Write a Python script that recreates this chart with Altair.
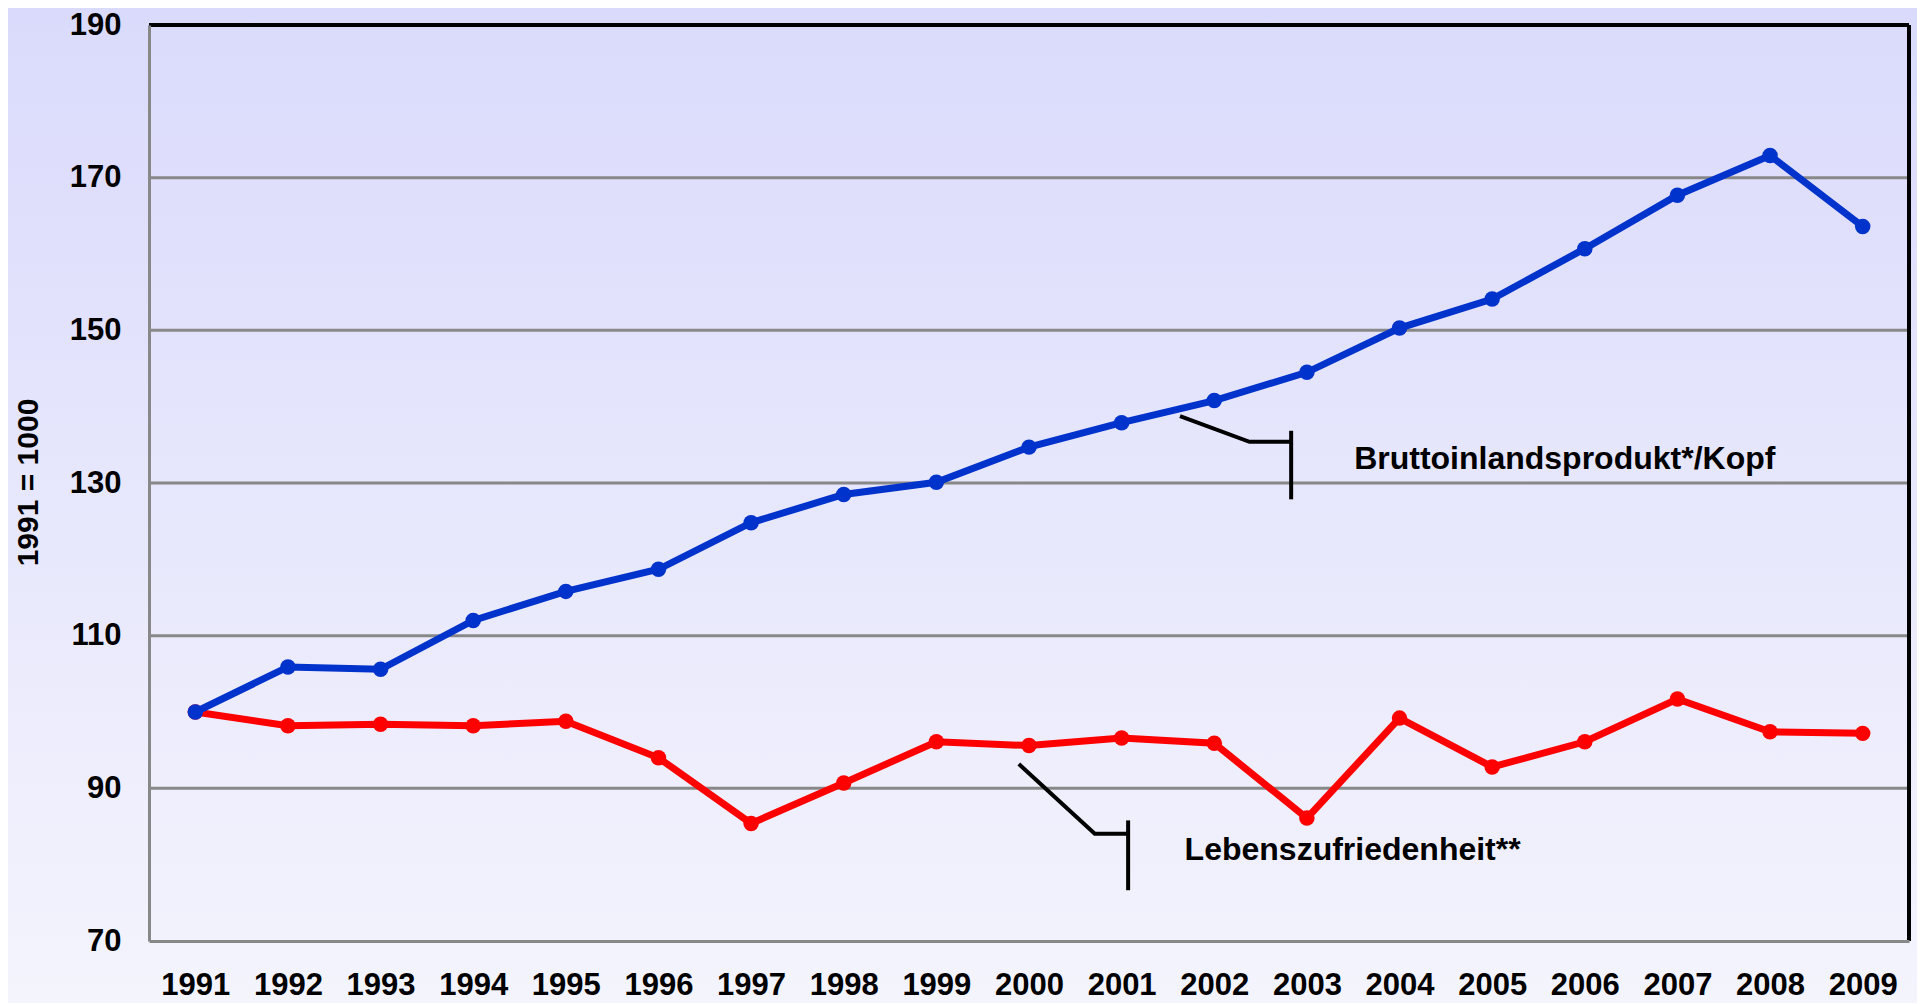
import altair as alt
import pandas as pd

# ---- data ----
years = [1991, 1992, 1993, 1994, 1995, 1996, 1997, 1998, 1999, 2000,
         2001, 2002, 2003, 2004, 2005, 2006, 2007, 2008, 2009]
bip = [100.0, 105.9, 105.6, 112.0, 115.8, 118.7, 124.8, 128.5, 130.1, 134.7,
       137.9, 140.8, 144.5, 150.3, 154.1, 160.7, 167.7, 172.9, 163.6]
lz = [100.0, 98.2, 98.4, 98.2, 98.8, 94.0, 85.4, 90.7, 96.1, 95.6,
      96.6, 95.9, 86.1, 99.2, 92.8, 96.1, 101.7, 97.4, 97.2]

y_ticks = [70, 90, 110, 130, 150, 170, 190]
grid_values = [90, 110, 130, 150, 170]

# annotation leader lines (data coordinates)
conn_group = ["bip", "bip", "bip", "lz", "lz", "lz"]
conn_idx = [0, 1, 2, 0, 1, 2]
conn_x = [2001.63, 2002.38, 2002.83, 1999.89, 2000.71, 2001.07]
conn_y = [138.76, 135.4, 135.4, 93.19, 84.04, 84.04]
bar_x = [2002.83, 2001.07]
bar_y1 = [136.84, 85.8]
bar_y2 = [127.86, 76.65]
label_text = ["Bruttoinlandsprodukt*/Kopf", "Lebenszufriedenheit**"]
label_x = [2003.51, 2001.68]
label_y = [133.15, 81.95]

FONT = "Liberation Sans"
W, H = 1760, 916
PAD = {"left": 141, "top": 17, "right": 8, "bottom": 62}

xscale = alt.Scale(domain=[1990.5, 2009.5], nice=False, zero=False)
yscale = alt.Scale(domain=[70, 190], nice=False, zero=False)

xaxis = alt.Axis(values=years, format="d", grid=False, ticks=False,
                 domainColor="#888888", domainWidth=3,
                 labelFont=FONT, labelFontSize=31, labelFontWeight="bold",
                 labelColor="black", labelPadding=29, title=None, zindex=1)
yaxis = alt.Axis(values=y_ticks, format="d", grid=False, ticks=False,
                 domainColor="#888888", domainWidth=3,
                 labelFont=FONT, labelFontSize=31, labelFontWeight="bold",
                 labelColor="black", labelPadding=28,
                 title="1991 = 1000", titleFont=FONT, titleFontSize=30,
                 titleFontWeight="bold", titleColor="black",
                 titleAngle=270, titleX=-121, titleY=457,
                 titleAlign="center", titleBaseline="middle", zindex=1)

series_df = pd.DataFrame({"year": years, "bip": bip, "lz": lz})
conn_df = pd.DataFrame({"g": conn_group, "i": conn_idx, "x": conn_x, "y": conn_y})
bar_df = pd.DataFrame({"x": bar_x, "y1": bar_y1, "y2": bar_y2})
grid_df = pd.DataFrame({"v": grid_values})
label_df = pd.DataFrame({"x": label_x, "y": label_y, "t": label_text})

gradient = alt.LinearGradient(
    gradient="linear",
    stops=[alt.GradientStop(color="#DADAFC", offset=0),
           alt.GradientStop(color="#F4F4FD", offset=1)],
    x1=0, x2=0, y1=0, y2=1)

bg = alt.Chart(pd.DataFrame({"a": [0]})).mark_rect(color=gradient).encode(
    x=alt.value(-PAD["left"]), x2=alt.value(W + PAD["right"]),
    y=alt.value(-PAD["top"]), y2=alt.value(H + PAD["bottom"]))

grid = alt.Chart(grid_df).mark_rule(color="#888888", strokeWidth=3).encode(
    y=alt.Y("v:Q", scale=yscale, axis=yaxis))

top_border = alt.Chart(pd.DataFrame({"a": [0]})).mark_rule(
    color="black", strokeWidth=4).encode(y=alt.datum(190, scale=yscale))
right_border = alt.Chart(pd.DataFrame({"a": [0]})).mark_rule(
    color="black", strokeWidth=4).encode(x=alt.datum(2009.5, scale=xscale))

def series(field, color):
    base = alt.Chart(series_df).encode(
        x=alt.X("year:Q", scale=xscale, axis=xaxis),
        y=alt.Y(f"{field}:Q", scale=yscale, axis=yaxis))
    return [base.mark_line(color=color, strokeWidth=7),
            base.mark_circle(color=color, size=240, opacity=1)]

conn = alt.Chart(conn_df).mark_line(color="black", strokeWidth=4).encode(
    x=alt.X("x:Q", scale=xscale, axis=xaxis),
    y=alt.Y("y:Q", scale=yscale, axis=yaxis),
    detail="g:N", order="i:Q")
bars = alt.Chart(bar_df).mark_rule(color="black", strokeWidth=4).encode(
    x=alt.X("x:Q", scale=xscale, axis=xaxis),
    y=alt.Y("y1:Q", scale=yscale, axis=yaxis), y2="y2:Q")

labels = alt.Chart(label_df).mark_text(
    font=FONT, fontSize=32, fontWeight="bold", color="black",
    align="left", baseline="middle").encode(
    x=alt.X("x:Q", scale=xscale), y=alt.Y("y:Q", scale=yscale), text="t:N")

layers = [bg, grid] + series("lz", "#FF0000") + series("bip", "#0033CC") + \
         [conn, bars, labels, top_border, right_border]

chart = alt.layer(*layers).properties(
    width=W, height=H,
    autosize=alt.AutoSizeParams(type="none"),
    padding=PAD,
).configure(background="#E8E8FC").configure_view(stroke=None)

chart.save("out.html", embed_options={"renderer": "svg", "actions": False})
